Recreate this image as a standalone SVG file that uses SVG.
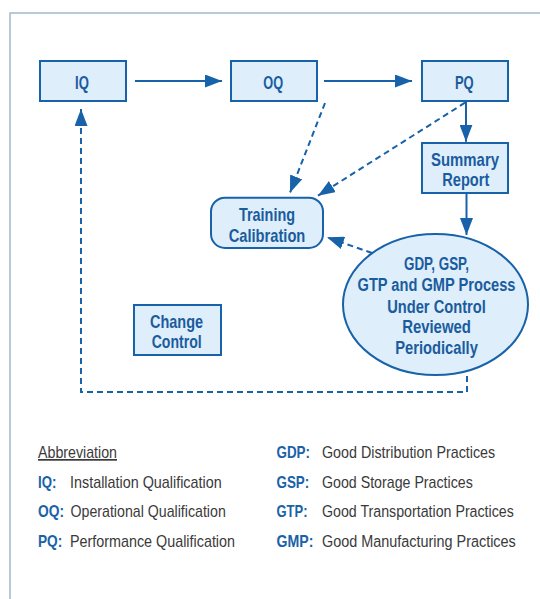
<svg xmlns="http://www.w3.org/2000/svg" width="540" height="599" viewBox="0 0 540 599">
  <style>
    .box { fill: #deeefa; stroke: #1762a8; stroke-width: 2; }
    .nt { font-family: "Liberation Sans", Arial, sans-serif; font-weight: bold; font-size: 19px; fill: #1a5c9e; text-anchor: middle; }
    .ln { fill: none; stroke: #1762a8; stroke-width: 2; }
    .dash { stroke-dasharray: 6 4; }
    .lab { font-family: "Liberation Sans", Arial, sans-serif; font-weight: bold; font-size: 17px; fill: #1a62a8; }
    .desc { font-family: "Liberation Sans", Arial, sans-serif; font-size: 17px; fill: #3a3a3a; }
  </style>
  <defs>
    <marker id="ah" markerUnits="userSpaceOnUse" markerWidth="17" markerHeight="13" refX="17" refY="6.5" orient="auto">
      <path d="M0,0 L17,6.5 L0,13 z" fill="#1762a8" stroke="none"/>
    </marker>
  </defs>
  <rect width="540" height="599" fill="#ffffff"/>
  <path d="M10,599 V13 H540" fill="none" stroke="#a3b8c9" stroke-width="1.5"/>

  <g id="connectors">
    <path class="ln" d="M135,81 H222" marker-end="url(#ah)"/>
    <path class="ln" d="M324,81 H412" marker-end="url(#ah)"/>
    <path class="ln" d="M466,102 V141.7" marker-end="url(#ah)"/>
    <path class="ln" d="M466.5,194 V235" marker-end="url(#ah)"/>
    <path class="ln dash" d="M325,103 L290,192.7" marker-end="url(#ah)"/>
    <path class="ln dash" d="M465,102.7 L318,195.7" marker-end="url(#ah)"/>
    <path class="ln dash" d="M372,253 L327,237.3" marker-end="url(#ah)"/>
    <path class="ln dash" d="M467,376 V392 H81 V109" marker-end="url(#ah)"/>
  </g>

  <g id="iq">
    <rect class="box" x="40" y="61" width="86" height="40"/>
    <text class="nt" x="82" y="88.5" textLength="13.8" lengthAdjust="spacingAndGlyphs">IQ</text>
  </g>
  <g id="oq">
    <rect class="box" x="231" y="61" width="86" height="40"/>
    <text class="nt" x="273.2" y="88.5" textLength="19.8" lengthAdjust="spacingAndGlyphs">OQ</text>
  </g>
  <g id="pq">
    <rect class="box" x="422" y="61" width="86" height="40"/>
    <text class="nt" x="464.3" y="88.5" textLength="18.7" lengthAdjust="spacingAndGlyphs">PQ</text>
  </g>
  <g id="summary">
    <rect class="box" x="422" y="143" width="86" height="50"/>
    <text class="nt" x="465" y="166" textLength="68" lengthAdjust="spacingAndGlyphs">Summary</text>
    <text class="nt" x="465.8" y="185.5" textLength="47" lengthAdjust="spacingAndGlyphs">Report</text>
  </g>
  <g id="training">
    <rect class="box" x="211" y="197.7" width="112" height="50.3" rx="14" ry="14"/>
    <text class="nt" x="267" y="221" textLength="56" lengthAdjust="spacingAndGlyphs">Training</text>
    <text class="nt" x="267" y="241.5" textLength="76.7" lengthAdjust="spacingAndGlyphs">Calibration</text>
  </g>
  <g id="change">
    <rect class="box" x="134" y="305" width="87" height="50"/>
    <text class="nt" x="176.5" y="327.5" textLength="53" lengthAdjust="spacingAndGlyphs">Change</text>
    <text class="nt" x="176.7" y="348" textLength="50" lengthAdjust="spacingAndGlyphs">Control</text>
  </g>
  <g id="process">
    <ellipse class="box" cx="435.5" cy="304.5" rx="92.5" ry="70.5"/>
    <text class="nt" x="436.5" y="270" textLength="65" lengthAdjust="spacingAndGlyphs">GDP, GSP,</text>
    <text class="nt" transform="translate(436.5,291) scale(0.8,1)" x="0" y="0" textLength="197.5" lengthAdjust="spacingAndGlyphs">GTP and GMP Process</text>
    <text class="nt" x="436.5" y="312.5" textLength="98.7" lengthAdjust="spacingAndGlyphs">Under Control</text>
    <text class="nt" x="436.5" y="333.3" textLength="68.7" lengthAdjust="spacingAndGlyphs">Reviewed</text>
    <text class="nt" x="436.5" y="353.5" textLength="82.7" lengthAdjust="spacingAndGlyphs">Periodically</text>
  </g>

  <g id="legend">
    <text class="desc" x="38" y="458" textLength="79" lengthAdjust="spacingAndGlyphs" text-decoration="underline">Abbreviation</text>
    <text class="lab" x="38" y="487.5" textLength="18.3" lengthAdjust="spacingAndGlyphs">IQ:</text>
    <text class="desc" x="70" y="487.5" textLength="151.7" lengthAdjust="spacingAndGlyphs">Installation Qualification</text>
    <text class="lab" x="38" y="517" textLength="26" lengthAdjust="spacingAndGlyphs">OQ:</text>
    <text class="desc" x="70.5" y="517" textLength="155.3" lengthAdjust="spacingAndGlyphs">Operational Qualification</text>
    <text class="lab" x="38" y="546.5" textLength="24.3" lengthAdjust="spacingAndGlyphs">PQ:</text>
    <text class="desc" x="70" y="546.5" textLength="165" lengthAdjust="spacingAndGlyphs">Performance Qualification</text>

    <text class="lab" x="276.5" y="458" textLength="33.5" lengthAdjust="spacingAndGlyphs">GDP:</text>
    <text class="desc" x="322" y="458" textLength="173.2" lengthAdjust="spacingAndGlyphs">Good Distribution Practices</text>
    <text class="lab" x="276.5" y="487.5" textLength="32.7" lengthAdjust="spacingAndGlyphs">GSP:</text>
    <text class="desc" x="322" y="487.5" textLength="150.8" lengthAdjust="spacingAndGlyphs">Good Storage Practices</text>
    <text class="lab" x="276.5" y="517" textLength="31" lengthAdjust="spacingAndGlyphs">GTP:</text>
    <text class="desc" transform="translate(322,517) scale(0.83,1)" x="0" y="0" textLength="231.1" lengthAdjust="spacingAndGlyphs">Good Transportation Practices</text>
    <text class="lab" x="276.5" y="546.5" textLength="36.9" lengthAdjust="spacingAndGlyphs">GMP:</text>
    <text class="desc" transform="translate(322,546.5) scale(0.85,1)" x="0" y="0" textLength="228" lengthAdjust="spacingAndGlyphs">Good Manufacturing Practices</text>
  </g>
</svg>
